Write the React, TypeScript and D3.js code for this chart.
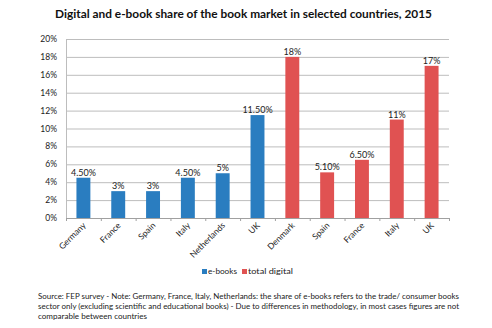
import React from "react";
import * as d3 from "d3";

const categories = ["Germany", "France", "Spain", "Italy", "Netherlands", "UK", "Denmark", "Spain", "France", "Italy", "UK"];
const values = [4.5, 3, 3, 4.5, 5, 11.5, 18, 5.1, 6.5, 11, 17];
const valueLabels = ["4.50%", "3%", "3%", "4.50%", "5%", "11.50%", "18%", "5.10%", "6.50%", "11%", "17%"];
const seriesOf = ["e-books", "e-books", "e-books", "e-books", "e-books", "e-books", "total digital", "total digital", "total digital", "total digital", "total digital"];
const seriesNames = ["e-books", "total digital"];
const yTicks = [0, 2, 4, 6, 8, 10, 12, 14, 16, 18, 20];
const sourceLines = [
  "Source: FEP survey - Note: Germany, France, Italy, Netherlands: the share of e-books refers to the trade/ consumer books",
  "sector only (excluding scientific and educational books) - Due to differences in methodology, in most cases figures are not",
  "comparable between countries",
];
const sourceWidths = [421, 421, 109];

const W = 492, H = 328;
const left = 66, right = 449, top = 39, bottom = 218;
const FONT = "Lato, 'DejaVu Sans', sans-serif";

export default function App() {
  const x = d3.scaleBand<number>().domain(d3.range(categories.length)).range([left, right]).paddingInner(0.6).paddingOuter(0.3);
  const band = d3.scaleBand<number>().domain(d3.range(categories.length)).range([left, right]);
  const y = d3.scaleLinear().domain([0, 20]).range([bottom, top]);
  const color = d3.scaleOrdinal<string, string>().domain(seriesNames).range(["#2a7dc0", "#e05252"]);

  return (
    <svg width={W} height={H} style={{ position: "absolute", left: 0, top: 0, background: "#fff" }} fontFamily={FONT}>
      <text x={55} y={18} fontSize={11} fontWeight="bold" fill="#111" textLength={377} lengthAdjust="spacingAndGlyphs">
        Digital and e-book share of the book market in selected countries, 2015
      </text>
      {yTicks.map((t) => (
        <g key={t}>
          <line x1={left} x2={right} y1={y(t) + 0.5} y2={y(t) + 0.5} stroke="#bdbdbd" strokeWidth={1} />
          <text x={57} y={y(t) + 3} textAnchor="end" fontSize={8.5} fill="#222">{t}%</text>
        </g>
      ))}
      <line x1={left + 0.5} x2={left + 0.5} y1={top} y2={bottom} stroke="#bdbdbd" />
      <line x1={left} x2={right} y1={bottom + 0.5} y2={bottom + 0.5} stroke="#a0a0a0" />
      {d3.range(categories.length + 1).map((i) => {
        const xx = i < categories.length ? band(i)! : right;
        return <line key={i} x1={xx + 0.5} x2={xx + 0.5} y1={bottom} y2={bottom + 3} stroke="#a0a0a0" />;
      })}
      {values.map((v, i) => (
        <g key={i}>
          <rect x={x(i)!} y={y(v)} width={x.bandwidth()} height={bottom - y(v)} fill={color(seriesOf[i])} />
          <text x={x(i)! + x.bandwidth() / 2} y={y(v) - 2} textAnchor="middle" fontSize={9} fill="#222">{valueLabels[i]}</text>
        </g>
      ))}
      {categories.map((c, i) => {
        const cx = band(i)! + band.bandwidth() / 2 + 3;
        const cy = bottom + 8;
        return (
          <text key={i} x={cx} y={cy} textAnchor="end" fontSize={8.5} fill="#222" transform={`rotate(-45 ${cx} ${cy})`}>{c}</text>
        );
      })}
      <g fontSize={8} fill="#222">
        <rect x={202} y={269} width={5} height={5} fill={color(seriesNames[0])} />
        <text x={208} y={274} textLength={29} lengthAdjust="spacingAndGlyphs">{seriesNames[0]}</text>
        <rect x={242} y={269} width={5} height={5} fill={color(seriesNames[1])} />
        <text x={248} y={274} textLength={45} lengthAdjust="spacingAndGlyphs">{seriesNames[1]}</text>
      </g>
      <g fontSize={7.2} fill="#222">
        {sourceLines.map((l, i) => (
          <text key={i} x={38} y={299 + i * 10} textLength={sourceWidths[i]} lengthAdjust="spacingAndGlyphs">{l}</text>
        ))}
      </g>
    </svg>
  );
}
